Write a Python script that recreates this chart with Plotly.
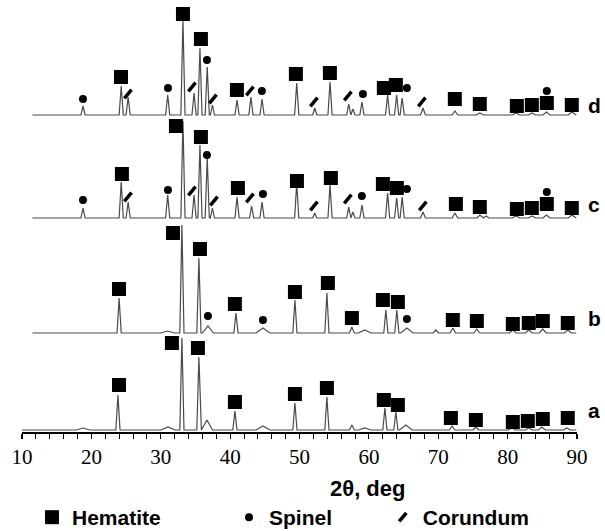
import plotly.graph_objects as go

# ---------------- data (2θ in deg, intensity in arbitrary stacked units) ----------------
# pattern a
a_offset = 2
a_pos = [18.8, 23.83, 31.04, 33.05, 35.5, 36.66, 40.69, 44.73, 49.34, 53.95, 57.55, 59.4,
         62.31, 63.89, 65.33, 72.0, 75.42, 80.61, 83.05, 84.93, 88.53]
a_int = [2, 35, 3, 92, 73, 10, 19, 4, 27, 33, 5, 2, 22, 18, 5, 4, 3, 2, 2, 3, 2]
a_hw = [1.0, 0.3, 1.0, 0.3, 0.3, 0.8, 0.3, 1.0, 0.3, 0.3, 0.35, 0.9, 0.3, 0.3, 0.9,
        0.4, 0.4, 0.5, 0.5, 0.5, 0.5]

# pattern b
b_offset = 99
b_pos = [24.0, 31.0, 33.05, 35.5, 36.8, 40.84, 44.73, 49.34, 53.95, 57.55, 59.4, 62.45,
         64.03, 65.48, 69.65, 72.1, 75.56, 80.75, 83.05, 85.07, 88.67]
b_int = [35, 2, 108, 75, 7, 20, 5, 33, 40, 6, 3, 23, 23, 5, 3, 5, 4, 3, 3, 4, 3]
b_hw = [0.3, 1.0, 0.3, 0.3, 0.8, 0.3, 1.0, 0.3, 0.3, 0.35, 0.9, 0.3, 0.3, 0.9, 0.4,
        0.4, 0.4, 0.5, 0.5, 0.5, 0.5]

# pattern c
c_offset = 214
c_pos = [18.8, 24.3, 25.3, 31.0, 33.2, 34.8, 35.65, 36.7, 37.45, 41.0, 43.1, 44.6, 49.6,
         52.2, 54.4, 57.1, 57.7, 59.0, 62.7, 64.0, 64.8, 67.8, 72.4, 76.0, 76.9, 81.2,
         83.5, 85.6, 89.25]
c_int = [10, 36, 16, 23, 97, 23, 73, 60, 10, 21, 12, 16, 35, 5, 33, 11, 6, 13, 25, 20, 21,
         6, 5, 3, 2, 2, 2, 3, 3]
c_hw = [0.3] * 16 + [0.3, 0.3, 0.3, 0.3, 0.3, 0.35, 0.4, 0.4, 0.4, 0.5, 0.5, 0.5, 0.5]

# pattern d
d_offset = 317
d_pos = [18.8, 24.3, 25.3, 31.0, 33.2, 34.8, 35.65, 36.7, 37.45, 41.0, 43.0, 44.6, 49.6,
         52.2, 54.4, 57.1, 57.7, 59.0, 62.7, 64.0, 64.8, 67.8, 72.4, 76.0, 81.2, 83.5,
         85.6, 89.25]
d_int = [9, 29, 18, 20, 95, 22, 67, 48, 10, 15, 18, 16, 32, 7, 33, 11, 6, 13, 20, 20, 17,
         7, 4, 2, 2, 2, 3, 3]
d_hw = [0.3] * 16 + [0.3, 0.3, 0.3, 0.3, 0.3, 0.35, 0.4, 0.5, 0.5, 0.5, 0.5, 0.5]

# phase markers (2θ, stacked height)
hem_x = [23.98, 31.61, 35.36, 40.69, 49.34, 53.95, 62.16, 64.18, 71.82, 75.42, 80.75, 82.91, 85.07, 88.67,
         23.98, 31.76, 35.65, 40.69, 49.34, 54.09, 57.55, 62.02, 64.18, 72.1, 75.56, 80.75, 83.05, 85.07, 88.67,
         24.4, 32.19, 35.79, 41.12, 49.63, 54.52, 62.02, 64.03, 72.54, 75.99, 81.33, 83.49, 85.65, 89.25,
         24.27, 33.2, 35.79, 40.98, 49.48, 54.38, 62.16, 63.89, 72.39, 75.99, 81.33, 83.49, 85.65, 89.25]
hem_y = [47, 89, 84, 30, 38, 44, 32, 27, 14, 12, 10, 11, 13, 14,
         143, 199, 183, 128, 140, 149, 114, 132, 130, 112, 111, 108, 109, 111, 109,
         258, 306, 295, 244, 251, 254, 248, 244, 228, 225, 223, 224, 228, 224,
         355, 418, 393, 342, 358, 359, 344, 347, 333, 328, 326, 327, 329, 327]

spi_x = [36.8, 44.73, 65.48,
         18.79, 31.04, 36.66, 44.73, 58.99, 65.48, 85.65,
         18.79, 31.04, 36.66, 44.58, 59.14, 65.48, 85.65]
spi_y = [116, 112, 113,
         232, 242, 277, 238, 236, 243, 240,
         333, 344, 372, 341, 338, 344, 341]

cor_x = [25.27, 34.5, 37.67, 42.85, 52.08, 56.97, 67.78,
         25.27, 34.5, 37.52, 42.85, 52.08, 56.97, 67.64]
cor_y = [235, 241, 231, 234, 226, 233, 226,
         338, 345, 333, 341, 330, 336, 330]

pattern_labels = ["a", "b", "c", "d"]
label_y = [22, 114, 228, 327]
x_ticks = [10, 20, 30, 40, 50, 60, 70, 80, 90]


def profile(start, end, base, pos, inten, hw):
    xs, ys = [start], [base]
    prev = start
    for p, h, w in sorted(zip(pos, inten, hw)):
        left = max(p - w, prev)
        right = p + w
        xs += [left, p, right]
        ys += [base, base + h, base]
        prev = right
    xs.append(end)
    ys.append(base)
    return xs, ys


fig = go.Figure()

line_style = dict(color="#4a4a4a", width=1.2)
for name, start, base, pos, inten, hw in [
    ("a", 10.0, a_offset, a_pos, a_int, a_hw),
    ("b", 11.5, b_offset, b_pos, b_int, b_hw),
    ("c", 11.5, c_offset, c_pos, c_int, c_hw),
    ("d", 11.5, d_offset, d_pos, d_int, d_hw),
]:
    xs, ys = profile(start, 89.9, base, pos, inten, hw)
    fig.add_trace(go.Scatter(x=xs, y=ys, mode="lines", line=line_style,
                             showlegend=False, hoverinfo="skip", name=name))

fig.add_trace(go.Scatter(x=hem_x, y=hem_y, mode="markers", name="Hematite",
                         marker=dict(symbol="square", size=14, color="#000"),
                         cliponaxis=False, legend="legend"))
fig.add_trace(go.Scatter(x=spi_x, y=spi_y, mode="markers", name="Spinel",
                         marker=dict(symbol="circle", size=8, color="#000"),
                         cliponaxis=False, legend="legend2"))
fig.add_trace(go.Scatter(x=cor_x, y=cor_y, mode="markers", name="Corundum",
                         marker=dict(symbol="line-ns", size=8, angle=40,
                                     color="#000", line=dict(color="#000", width=3.5)),
                         cliponaxis=False, legend="legend3"))

annotations = []
for lab, ly in zip(pattern_labels, label_y):
    annotations.append(dict(x=1.031, xref="paper", y=ly, yref="y", text=lab,
                            showarrow=False, xanchor="center", yanchor="middle",
                            font=dict(family="Liberation Sans", size=21, color="#000",
                                      weight="bold")))
annotations.append(dict(x=0.623, xref="paper", y=-0.13, yref="paper", text="2θ, deg",
                        showarrow=False, xanchor="center", yanchor="middle",
                        font=dict(family="Liberation Sans", size=22, color="#000",
                                  weight="bold")))

legend_font = dict(family="Liberation Sans", size=21, color="#000", weight="bold")
leg_common = dict(orientation="h", yanchor="middle", y=-0.198, xanchor="left",
                  font=legend_font, bgcolor="rgba(0,0,0,0)", itemclick=False)

fig.update_layout(
    width=605, height=531,
    margin=dict(l=22, r=28, t=0, b=99, autoexpand=False),
    paper_bgcolor="white", plot_bgcolor="white",
    showlegend=True,
    legend=dict(x=0.018, **leg_common),
    legend2=dict(x=0.373, **leg_common),
    legend3=dict(x=0.650, **leg_common),
    annotations=annotations,
    xaxis=dict(range=[10, 90], tickvals=x_ticks, showline=True, linecolor="#000",
               linewidth=2, ticks="outside", ticklen=5, tickwidth=1.2, tickcolor="#000",
               minor=dict(dtick=2, ticks="outside", ticklen=5, tickwidth=1, tickcolor="#000"),
               showgrid=False, zeroline=False,
               tickfont=dict(family="Liberation Serif", size=21, color="#000")),
    yaxis=dict(visible=False, range=[0, 432], fixedrange=True),
)

fig.write_html("out.html", config={"displayModeBar": False, "staticPlot": True},
               post_script="document.body.style.margin='0';document.body.style.overflow='hidden';")
